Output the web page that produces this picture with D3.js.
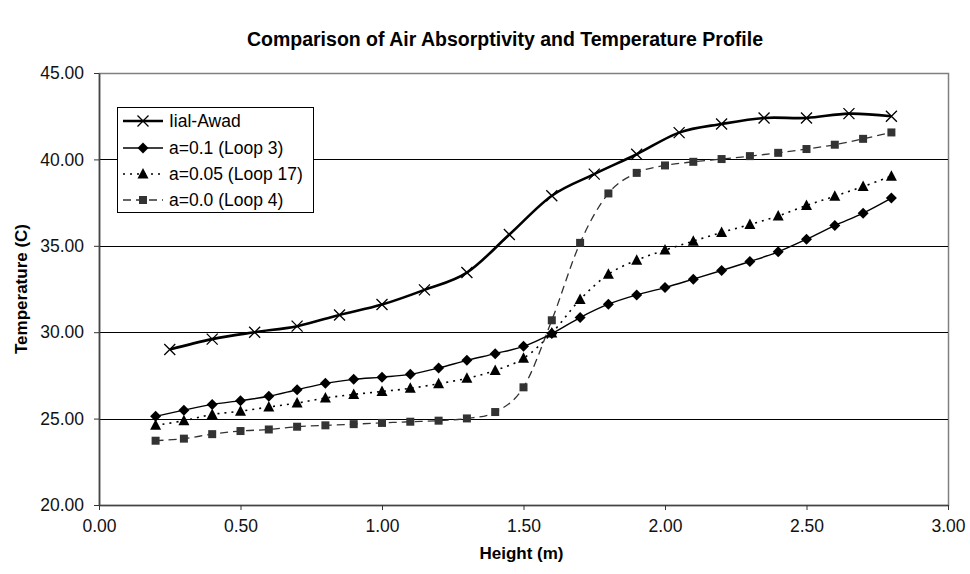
<!DOCTYPE html>
<html>
<head>
<meta charset="utf-8">
<script src="https://cdn.jsdelivr.net/npm/d3@7"></script>
<style>
  html, body { margin: 0; padding: 0; background: #fff; }
  svg { display: block; font-family: "Liberation Sans", Arial, sans-serif; }
</style>
</head>
<body>
<svg id="chart" width="970" height="574"></svg>
<script>
// Heights (m) for the model runs
const heights = [0.2, 0.3, 0.4, 0.5, 0.6, 0.7, 0.8, 0.9, 1.0, 1.1, 1.2, 1.3, 1.4,
  1.5, 1.6, 1.7, 1.8, 1.9, 2.0, 2.1, 2.2, 2.3, 2.4, 2.5, 2.6, 2.7, 2.8];

// Heights (m) for the Iial-Awad measurements
const awadHeights = [0.25, 0.40, 0.55, 0.70, 0.85, 1.00, 1.15, 1.30, 1.45, 1.60,
  1.75, 1.90, 2.05, 2.20, 2.35, 2.50, 2.65, 2.80];

// Temperatures (C)
const awadTemps = [29.0, 29.6, 30.0, 30.35, 31.0, 31.6, 32.45, 33.45, 35.65, 37.9,
  39.15, 40.3, 41.55, 42.05, 42.4, 42.4, 42.65, 42.5];

const loop3Temps = [25.13, 25.49, 25.82, 26.04, 26.29, 26.67, 27.04, 27.27, 27.40,
  27.56, 27.93, 28.37, 28.76, 29.18, 29.92, 30.85, 31.62, 32.16, 32.58, 33.07,
  33.57, 34.09, 34.65, 35.38, 36.17, 36.89, 37.76];

const loop17Temps = [24.61, 24.88, 25.24, 25.43, 25.67, 25.90, 26.19, 26.40, 26.57,
  26.75, 27.02, 27.33, 27.79, 28.49, 29.95, 31.89, 33.35, 34.17, 34.75, 35.27,
  35.77, 36.23, 36.73, 37.33, 37.87, 38.43, 39.03];

const loop4Temps = [23.72, 23.84, 24.10, 24.28, 24.37, 24.53, 24.61, 24.68, 24.75,
  24.82, 24.88, 25.01, 25.38, 26.81, 30.69, 35.17, 38.03, 39.22, 39.65, 39.86,
  40.02, 40.19, 40.38, 40.60, 40.85, 41.19, 41.56];

const seriesNames = ["Iial-Awad", "a=0.1 (Loop 3)", "a=0.05 (Loop 17)", "a=0.0 (Loop 4)"];

const xTicks = [0, 0.5, 1.0, 1.5, 2.0, 2.5, 3.0];
const yTicks = [20, 25, 30, 35, 40, 45];

const chartTitle = "Comparison of Air Absorptivity and Temperature Profile";
const xTitle = "Height (m)";
const yTitle = "Temperature (C)";

// ---- layout ----
const svg = d3.select("#chart");
const plot = { left: 99, right: 948, top: 73, bottom: 505 };

const x = d3.scaleLinear().domain([0, 3]).range([plot.left, plot.right]);
const y = d3.scaleLinear().domain([20, 45]).range([plot.bottom, plot.top]);

// Title
svg.append("text")
  .attr("x", 505).attr("y", 46)
  .attr("text-anchor", "middle")
  .attr("font-size", 19.5).attr("font-weight", "bold")
  .text(chartTitle);

// Plot frame
svg.append("rect")
  .attr("x", plot.left + 0.5).attr("y", plot.top + 0.5)
  .attr("width", plot.right - plot.left).attr("height", plot.bottom - plot.top)
  .attr("fill", "none").attr("stroke", "#808080").attr("stroke-width", 1.5);

// Horizontal gridlines
svg.append("g")
  .selectAll("line")
  .data(yTicks.filter(t => t > 20 && t < 45))
  .join("line")
  .attr("x1", plot.left).attr("x2", plot.right)
  .attr("y1", d => Math.round(y(d)) + 0.5).attr("y2", d => Math.round(y(d)) + 0.5)
  .attr("stroke", "#000").attr("stroke-width", 1);

// Axes
const fmt = d3.format(".2f");
const xAxis = svg.append("g")
  .attr("transform", `translate(0,${plot.bottom})`)
  .call(d3.axisBottom(x).tickValues(xTicks).tickFormat(fmt).tickSizeInner(5).tickSizeOuter(0).tickPadding(10));
const yAxis = svg.append("g")
  .attr("transform", `translate(${plot.left},0)`)
  .call(d3.axisLeft(y).tickValues(yTicks).tickFormat(fmt).tickSizeInner(5).tickSizeOuter(0).tickPadding(10));

[xAxis, yAxis].forEach(g => {
  g.select(".domain").attr("stroke", "#444").attr("stroke-width", 1.6);
  g.selectAll(".tick line").attr("stroke", "#333");
  g.selectAll(".tick text")
    .attr("font-family", "'Liberation Sans', Arial, sans-serif")
    .attr("font-size", 17.5).attr("fill", "#111");
});

// Axis titles
svg.append("text")
  .attr("x", (plot.left + plot.right) / 2 - 2).attr("y", 559)
  .attr("text-anchor", "middle")
  .attr("font-size", 17).attr("font-weight", "bold")
  .text(xTitle);

svg.append("text")
  .attr("transform", `translate(27,${(plot.top + plot.bottom) / 2}) rotate(-90)`)
  .attr("text-anchor", "middle")
  .attr("font-size", 17).attr("font-weight", "bold")
  .text(yTitle);

// ---- series ----
const curve = d3.curveCatmullRom.alpha(0);
const line = d3.line().x(d => x(d[0])).y(d => y(d[1])).curve(curve);

const series = [
  { name: seriesNames[0], xs: awadHeights, ys: awadTemps, color: "#000", width: 2.6, dash: null, marker: "cross" },
  { name: seriesNames[1], xs: heights, ys: loop3Temps, color: "#000", width: 1.4, dash: null, marker: "diamond" },
  { name: seriesNames[2], xs: heights, ys: loop17Temps, color: "#000", width: 1.6, dash: "2,5", marker: "triangle" },
  { name: seriesNames[3], xs: heights, ys: loop4Temps, color: "#333", width: 1.3, dash: "8,5", marker: "square" }
];

function drawMarker(g, type, cx, cy, color) {
  if (type === "cross") {
    g.append("path")
      .attr("d", `M${cx - 5.5},${cy - 5.5}L${cx + 5.5},${cy + 5.5}M${cx - 5.5},${cy + 5.5}L${cx + 5.5},${cy - 5.5}`)
      .attr("stroke", color).attr("stroke-width", 1.3).attr("fill", "none");
  } else if (type === "diamond") {
    g.append("path")
      .attr("d", `M${cx},${cy - 5.5}L${cx + 5.5},${cy}L${cx},${cy + 5.5}L${cx - 5.5},${cy}Z`)
      .attr("fill", color);
  } else if (type === "triangle") {
    g.append("path")
      .attr("d", `M${cx},${cy - 6}L${cx + 5.5},${cy + 4.5}L${cx - 5.5},${cy + 4.5}Z`)
      .attr("fill", color);
  } else if (type === "square") {
    g.append("rect")
      .attr("x", cx - 4).attr("y", cy - 4).attr("width", 8).attr("height", 8)
      .attr("fill", color);
  }
}

// Draw bottom-most series first so markers of the top series stay visible
[...series].reverse().forEach(s => {
  const pts = s.xs.map((h, i) => [h, s.ys[i]]);
  const g = svg.append("g");
  g.append("path")
    .attr("d", line(pts))
    .attr("fill", "none")
    .attr("stroke", s.color)
    .attr("stroke-width", s.width)
    .attr("stroke-dasharray", s.dash);
  pts.forEach(p => drawMarker(g, s.marker, x(p[0]), y(p[1]), s.color));
});

// ---- legend ----
const lg = svg.append("g");
lg.append("rect")
  .attr("x", 117.5).attr("y", 107.5).attr("width", 196).attr("height", 105)
  .attr("fill", "#fff").attr("stroke", "#000").attr("stroke-width", 1);

const legendRows = [121, 148, 174, 200];
series.forEach((s, i) => {
  const ly = legendRows[i];
  lg.append("line")
    .attr("x1", 123).attr("x2", 163).attr("y1", ly).attr("y2", ly)
    .attr("stroke", s.color).attr("stroke-width", s.width)
    .attr("stroke-dasharray", s.dash);
  drawMarker(lg, s.marker, 143, ly, s.color);
  lg.append("text")
    .attr("x", 169).attr("y", ly + 6)
    .attr("font-size", 17.5).attr("fill", "#000")
    .text(s.name);
});
</script>
</body>
</html>
